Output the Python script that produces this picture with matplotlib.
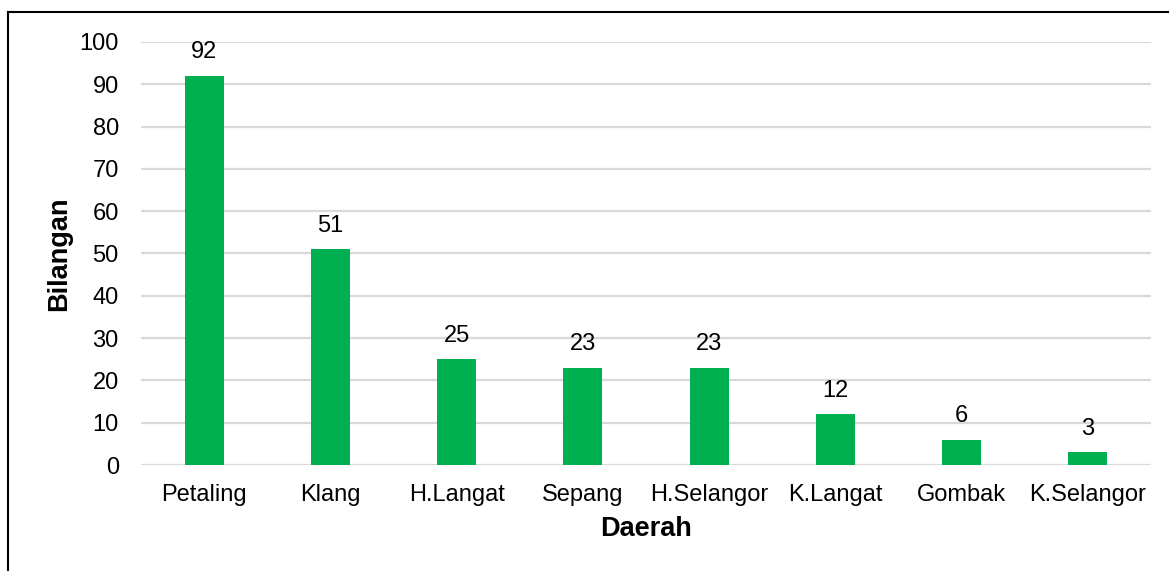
import matplotlib
matplotlib.use('Agg')
import matplotlib.pyplot as plt
from matplotlib.lines import Line2D

daerah = ['Petaling', 'Klang', 'H.Langat', 'Sepang', 'H.Selangor', 'K.Langat', 'Gombak', 'K.Selangor']
bilangan = [92, 51, 25, 23, 23, 12, 6, 3]
yticks = [0, 10, 20, 30, 40, 50, 60, 70, 80, 90, 100]

plt.rcParams['font.family'] = ['Liberation Sans', 'DejaVu Sans']

fig = plt.figure(figsize=(11.69, 5.71), dpi=100)
ax = fig.add_axes([141 / 1169, 106 / 571, 1010 / 1169, 423 / 571])

x = range(len(daerah))
bars = ax.bar(x, bilangan, width=0.31, color='#00b050', zorder=3)
for xi, v in zip(x, bilangan):
    ax.annotate(str(v), (xi, v), xytext=(0, 9), textcoords='offset points',
                ha='center', va='bottom', fontsize=17, color='black')

ax.set_xlim(-0.5, len(daerah) - 0.5)
ax.set_ylim(0, 100)
ax.set_yticks(yticks)
ax.set_xticks(list(x))
ax.set_xticklabels(daerah)
ax.yaxis.grid(True, color='#d9d9d9', linewidth=1.6, zorder=0)
ax.set_axisbelow(True)
for key, spine in ax.spines.items():
    spine.set_visible(False)
ax.tick_params(axis='both', length=0, labelsize=17)
ax.tick_params(axis='y', pad=16)
ax.tick_params(axis='x', pad=14)
ax.set_xlabel('Daerah', fontsize=19.5, fontweight='bold', labelpad=7)
ax.set_ylabel('Bilangan', fontsize=19.5, fontweight='bold', labelpad=5)

# chart frame (left and top edges visible)
fig.add_artist(Line2D([8 / 1169, 8 / 1169], [0, 1 - 12 / 571], color='black', linewidth=1.5,
                      transform=fig.transFigure))
fig.add_artist(Line2D([8 / 1169, 1], [1 - 12 / 571, 1 - 12 / 571], color='black', linewidth=1.5,
                      transform=fig.transFigure))

fig.savefig('out.png', dpi=100)
